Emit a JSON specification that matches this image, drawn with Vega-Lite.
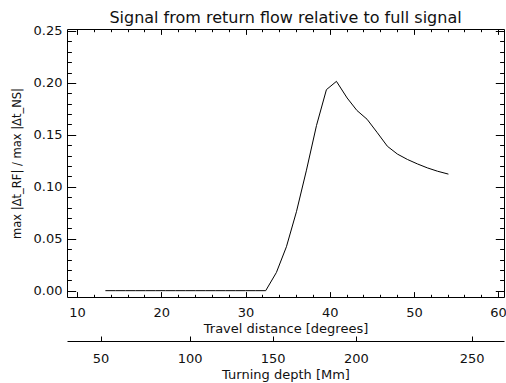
{
  "$schema": "https://vega.github.io/schema/vega-lite/v6.json",
  "autosize": {"type": "none"},
  "padding": {"left": 67, "top": 29, "right": 2, "bottom": 86},
  "width": 437,
  "height": 268,
  "title": {"text": "Signal from return flow relative to full signal", "fontSize": 16, "fontWeight": "normal", "font": "DejaVu Sans", "color": "#111", "anchor": "middle", "baseline": "alphabetic", "offset": -14},
  "data": {"values": [
    {"distance": 13.36, "ratio": 0},
    {"distance": 14.55, "ratio": 0},
    {"distance": 15.74, "ratio": 0},
    {"distance": 16.93, "ratio": 0},
    {"distance": 18.12, "ratio": 0},
    {"distance": 19.31, "ratio": 0},
    {"distance": 20.50, "ratio": 0},
    {"distance": 21.69, "ratio": 0},
    {"distance": 22.88, "ratio": 0},
    {"distance": 24.07, "ratio": 0},
    {"distance": 25.26, "ratio": 0},
    {"distance": 26.45, "ratio": 0},
    {"distance": 27.64, "ratio": 0},
    {"distance": 28.83, "ratio": 0},
    {"distance": 30.02, "ratio": 0},
    {"distance": 31.21, "ratio": 0},
    {"distance": 32.40, "ratio": 0},
    {"distance": 33.67, "ratio": 0.0175},
    {"distance": 34.86, "ratio": 0.0423},
    {"distance": 36.05, "ratio": 0.076},
    {"distance": 37.24, "ratio": 0.116},
    {"distance": 38.43, "ratio": 0.159},
    {"distance": 39.61, "ratio": 0.1935},
    {"distance": 40.80, "ratio": 0.2015},
    {"distance": 42.07, "ratio": 0.1855},
    {"distance": 43.23, "ratio": 0.1735},
    {"distance": 44.44, "ratio": 0.165},
    {"distance": 45.66, "ratio": 0.152},
    {"distance": 46.85, "ratio": 0.139},
    {"distance": 48.04, "ratio": 0.1315},
    {"distance": 49.23, "ratio": 0.1263},
    {"distance": 50.42, "ratio": 0.1220},
    {"distance": 51.60, "ratio": 0.1182},
    {"distance": 52.80, "ratio": 0.1150},
    {"distance": 54.10, "ratio": 0.1122}
  ]},
  "resolve": {"axis": {"x": "independent", "y": "independent"}},
  "layer": [
    {
      "mark": {"type": "line", "color": "black", "strokeWidth": 1},
      "encoding": {
        "x": {"field": "distance", "type": "quantitative",
          "scale": {"domain": [8.8, 60.7], "nice": false, "zero": false},
          "axis": {"orient": "bottom", "values": [10, 20, 30, 40, 50, 60], "tickSize": -5.4, "labelPadding": 15, "domain": false, "title": "Travel distance [degrees]", "titlePadding": 3, "labelFontSize": 13, "titleFontSize": 13, "labelOverlap": false}},
        "y": {"field": "ratio", "type": "quantitative",
          "scale": {"domain": [-0.0061, 0.2519], "nice": false, "zero": false},
          "axis": {"orient": "left", "values": [0, 0.05, 0.1, 0.15, 0.2, 0.25], "format": ".2f", "tickSize": -8.7, "labelPadding": 13.7, "domain": false, "title": "max |Δt_RF| / max |Δt_NS|", "titlePadding": 11, "labelFontSize": 13, "titleFontSize": 11.5, "labelOverlap": false}}
      }
    },
    {
      "mark": {"type": "line", "opacity": 0},
      "encoding": {
        "x": {"field": "distance", "type": "quantitative",
          "axis": {"orient": "bottom", "values": [10, 12, 14, 16, 18, 20, 22, 24, 26, 28, 30, 32, 34, 36, 38, 40, 42, 44, 46, 48, 50, 52, 54, 56, 58, 60], "tickSize": -2.7, "labels": false, "domain": false, "title": null}},
        "y": {"field": "ratio", "type": "quantitative",
          "axis": {"orient": "left", "values": [0, 0.01, 0.02, 0.03, 0.04, 0.05, 0.06, 0.07, 0.08, 0.09, 0.1, 0.11, 0.12, 0.13, 0.14, 0.15, 0.16, 0.17, 0.18, 0.19, 0.2, 0.21, 0.22, 0.23, 0.24, 0.25], "tickSize": -4.4, "labels": false, "domain": false, "title": null}}
      }
    },
    {
      "mark": {"type": "line", "opacity": 0},
      "encoding": {
        "x": {"field": "distance", "type": "quantitative",
          "axis": {"orient": "top", "values": [10, 20, 30, 40, 50, 60], "tickSize": -5.4, "labels": false, "domain": false, "title": null}},
        "y": {"field": "ratio", "type": "quantitative",
          "axis": {"orient": "right", "values": [0, 0.05, 0.1, 0.15, 0.2, 0.25], "tickSize": -8.7, "labels": false, "domain": false, "title": null}}
      }
    },
    {
      "mark": {"type": "line", "opacity": 0},
      "encoding": {
        "x": {"field": "distance", "type": "quantitative",
          "axis": {"orient": "top", "values": [10, 12, 14, 16, 18, 20, 22, 24, 26, 28, 30, 32, 34, 36, 38, 40, 42, 44, 46, 48, 50, 52, 54, 56, 58, 60], "tickSize": -2.7, "labels": false, "domain": false, "title": null}},
        "y": {"field": "ratio", "type": "quantitative",
          "axis": {"orient": "right", "values": [0, 0.01, 0.02, 0.03, 0.04, 0.05, 0.06, 0.07, 0.08, 0.09, 0.1, 0.11, 0.12, 0.13, 0.14, 0.15, 0.16, 0.17, 0.18, 0.19, 0.2, 0.21, 0.22, 0.23, 0.24, 0.25], "tickSize": -4.4, "labels": false, "domain": false, "title": null}}
      }
    },
    {
      "mark": {"type": "line", "opacity": 0},
      "encoding": {
        "x": {"field": "distance", "type": "quantitative",
          "axis": {"orient": "bottom", "offset": 44, "values": [12.78, 23.37, 33.23, 43.12, 56.86], "labelExpr": "datum.value < 18 ? '50' : datum.value < 28 ? '100' : datum.value < 38 ? '150' : datum.value < 50 ? '200' : '250'", "tickSize": -5, "labelPadding": 16, "domain": true, "domainColor": "black", "title": "Turning depth [Mm]", "titlePadding": 3, "labelFontSize": 13, "titleFontSize": 13, "labelOverlap": false}},
        "y": {"field": "ratio", "type": "quantitative", "axis": null}
      }
    }
  ],
  "config": {
    "font": "DejaVu Sans",
    "view": {"stroke": "black", "strokeWidth": 1},
    "axis": {"labelFont": "DejaVu Sans", "titleFont": "DejaVu Sans", "labelColor": "#111", "titleColor": "#111", "tickColor": "black", "domainColor": "black", "grid": false, "titleFontWeight": "normal", "tickWidth": 1}
  }
}
